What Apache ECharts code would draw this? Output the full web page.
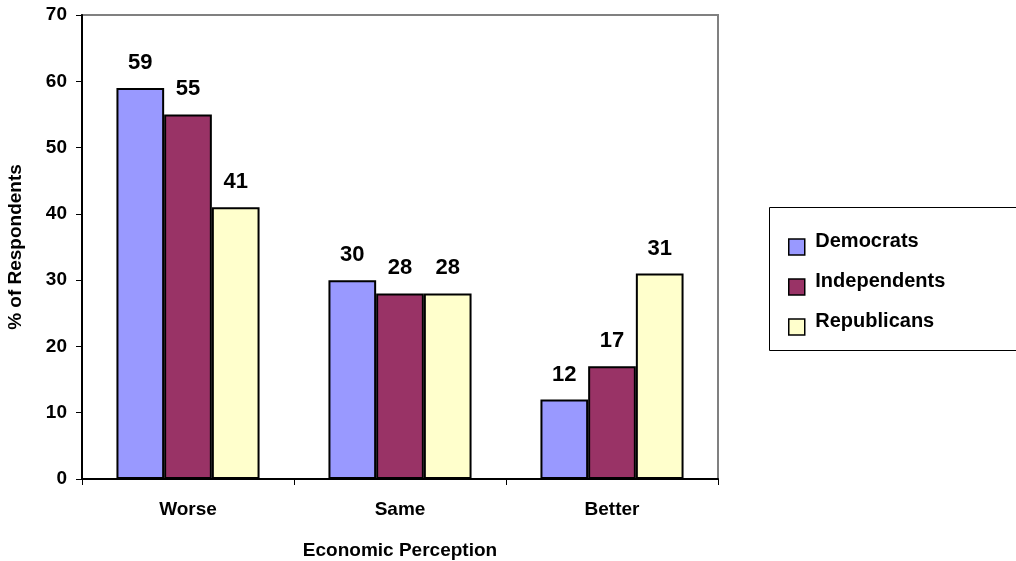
<!DOCTYPE html>
<html><head><meta charset="utf-8">
<script src="https://cdn.jsdelivr.net/npm/echarts@6/dist/echarts.min.js"></script>
<style>html,body{margin:0;padding:0;background:#fff}#c{width:1016px;height:561px}</style>
</head><body><div id="c"></div>
<script>
var categories = ['Worse', 'Same', 'Better'];
var democrats = [59, 30, 12];
var independents = [55, 28, 17];
var republicans = [41, 28, 31];
var seriesNames = ['Democrats', 'Independents', 'Republicans'];
var colors = ['#9999FF', '#993366', '#FFFFCC'];

var chart = echarts.init(document.getElementById('c'), null, {renderer: 'canvas'});
var font = 'Liberation Sans, Arial, sans-serif';
function mk(name, data, color) {
  return {
    name: name, type: 'bar', data: data, barGap: '0%', barCategoryGap: '32.5%',
    itemStyle: {color: color, borderColor: '#000', borderWidth: 2},
    label: {show: true, position: 'top', distance: 14, fontFamily: font, fontWeight: 'bold', fontSize: 22, color: '#000'}
  };
}
chart.setOption({
  animation: false,
  textStyle: {fontFamily: font},
  grid: {left: 82, top: 15, right: 298, bottom: 82, show: true, borderColor: '#808080', borderWidth: 2, containLabel: false, outerBoundsMode: 'none'},
  graphic: [{type: 'rect', shape: {x: 769.5, y: 207.5, width: 300, height: 143}, style: {fill: '#fff', stroke: '#000', lineWidth: 1}, z: 0}],
  legend: {
    orient: 'vertical', left: 788, top: 231, padding: 0, itemWidth: 16, itemHeight: 16, itemGap: 8,
    icon: 'rect', data: seriesNames,
    formatter: function (n) { return ' ' + n + '\n'; },
    itemStyle: {borderColor: '#000', borderWidth: 1.5},
    textStyle: {fontFamily: font, fontWeight: 'bold', fontSize: 20, color: '#000', lineHeight: 12}
  },
  xAxis: {
    type: 'category', data: categories,
    name: 'Economic Perception', nameLocation: 'middle', nameGap: 62,
    nameTextStyle: {fontFamily: font, fontWeight: 'bold', fontSize: 19, color: '#000'},
    axisLine: {lineStyle: {color: '#000', width: 2}},
    axisTick: {show: true, length: 6, lineStyle: {color: '#000'}},
    axisLabel: {fontFamily: font, fontWeight: 'bold', fontSize: 19, color: '#000', margin: 21}
  },
  yAxis: {
    type: 'value', min: 0, max: 70, interval: 10,
    name: '% of Respondents', nameLocation: 'middle', nameGap: 57, nameRotate: 90,
    nameTextStyle: {fontFamily: font, fontWeight: 'bold', fontSize: 19, color: '#000'},
    axisLine: {show: true, lineStyle: {color: '#000', width: 2}},
    axisTick: {show: true, length: 6, lineStyle: {color: '#000'}},
    splitLine: {show: false},
    axisLabel: {fontFamily: font, fontWeight: 'bold', fontSize: 19, color: '#000', margin: 15}
  },
  series: [mk(seriesNames[0], democrats, colors[0]), mk(seriesNames[1], independents, colors[1]), mk(seriesNames[2], republicans, colors[2])]
});
</script></body></html>
